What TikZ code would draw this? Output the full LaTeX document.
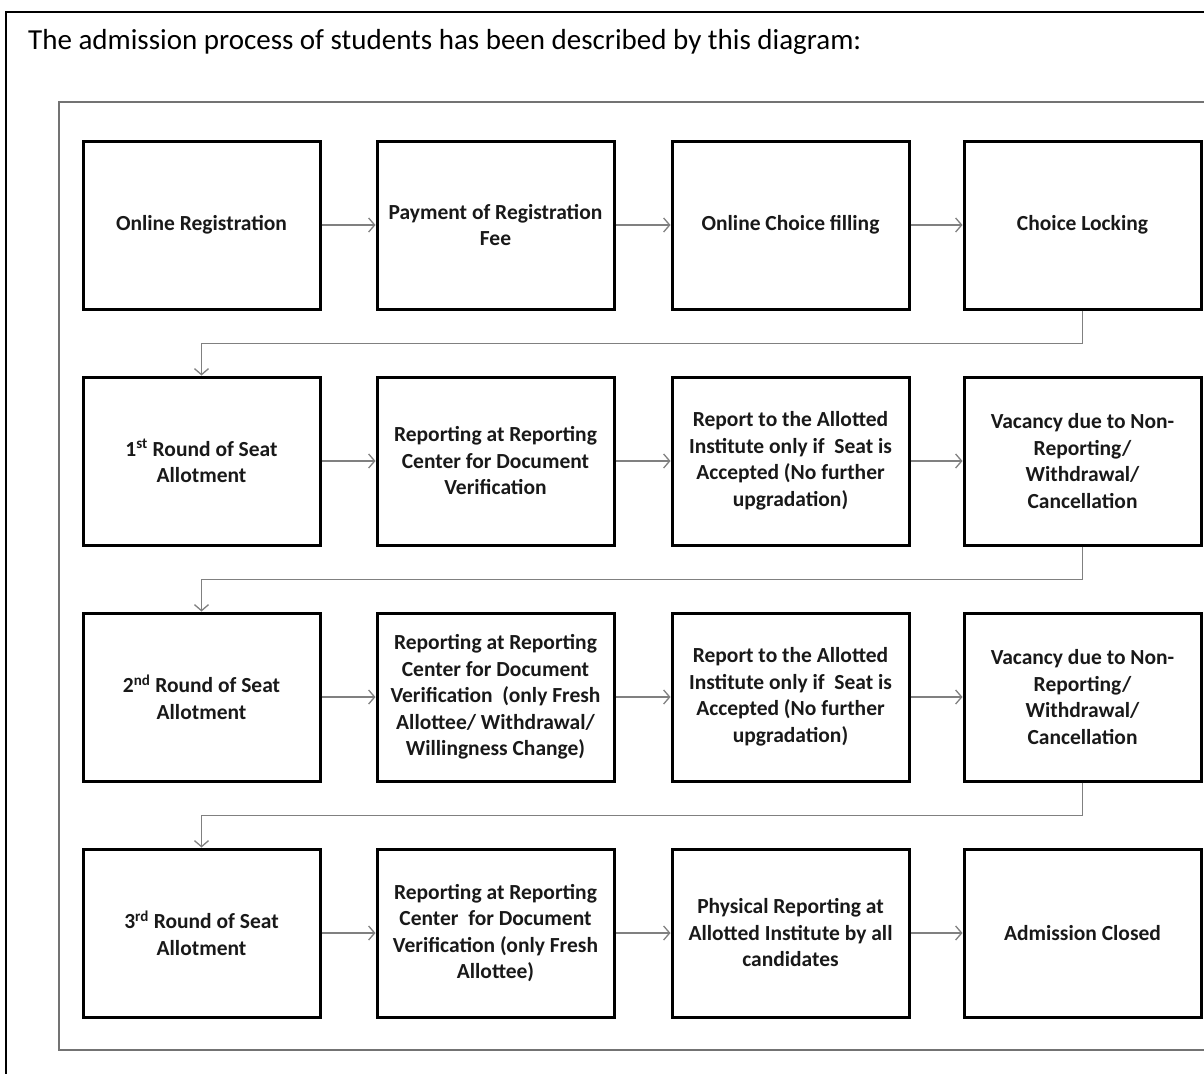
\documentclass[tikz,border=0pt]{standalone}
\usepackage{fontspec}
\setmainfont{Carlito}
\usetikzlibrary{arrows.meta}

\tikzset{
    stage/.style={draw=black, line width=3pt, minimum width=237pt, minimum height=168pt,
        align=center, inner sep=2pt, text=black!90,
        font=\fontsize{21.5}{26.5}\selectfont\bfseries},
    link/.style={draw=black!50, line width=1.3pt, -{Straight Barb[length=6pt,width=14pt]}}
}

\begin{document}
\begin{tikzpicture}[x=1pt, y=-1pt]
    \useasboundingbox (0,0) rectangle (1204,1073);
    \clip (0,0) rectangle (1204,1073);

    % frames
    \draw[line width=1.6pt] (6,12) rectangle (1240,1110);
    \draw[black!55, line width=1.8pt] (59,102) rectangle (1240,1050);
    \node[anchor=base west, inner sep=0pt, font=\fontsize{29}{34}\selectfont] (title) at (28,50)
        {The admission process of students has been described by this diagram:};

    % Row 1
    \node[stage] (reg)  at (201.5,225) {Online Registration};
    \node[stage] (pay)  at (495.5,225) {Payment of Registration\\Fee};
    \node[stage] (fill) at (790.5,225) {Online Choice filling};
    \node[stage] (lock) at (1082.5,225) {Choice Locking};

    % Row 2
    \node[stage] (first)  at (201.5,461) {1\textsuperscript{st} Round of Seat\\Allotment};
    \node[stage] (verA)   at (495.5,461) {Reporting at Reporting\\Center for Document\\Verification};
    \node[stage] (instA)  at (790.5,461) {Report to the Allotted\\Institute only if~ Seat is\\Accepted (No further\\upgradation)};
    \node[stage] (vacA)   at (1082.5,461) {Vacancy due to Non-\\Reporting/\\Withdrawal/\\Cancellation};

    % Row 3
    \node[stage] (second) at (201.5,697) {2\textsuperscript{nd} Round of Seat\\Allotment};
    \node[stage] (verB)   at (495.5,697) {Reporting at Reporting\\Center for Document\\Verification~ (only Fresh\\Allottee/ Withdrawal/\\Willingness Change)};
    \node[stage] (instB)  at (790.5,697) {Report to the Allotted\\Institute only if~ Seat is\\Accepted (No further\\upgradation)};
    \node[stage] (vacB)   at (1082.5,697) {Vacancy due to Non-\\Reporting/\\Withdrawal/\\Cancellation};

    % Row 4
    \node[stage] (third)  at (201.5,933) {3\textsuperscript{rd} Round of Seat\\Allotment};
    \node[stage] (verC)   at (495.5,933) {Reporting at Reporting\\Center~ for Document\\Verification (only Fresh\\Allottee)};
    \node[stage] (phys)   at (790.5,933) {Physical Reporting at\\Allotted Institute by all\\candidates};
    \node[stage] (closed) at (1082.5,933) {Admission Closed};

    % arrows
    \foreach \a/\b in {reg/pay, pay/fill, fill/lock, first/verA, verA/instA, instA/vacA,
        second/verB, verB/instB, instB/vacB, third/verC, verC/phys, phys/closed}
        \draw[link] (\a) -- (\b);
    \draw[link] (lock.south) -- ++(0,33) -| (first.north);
    \draw[link] (vacA.south) -- ++(0,33) -| (second.north);
    \draw[link] (vacB.south) -- ++(0,33) -| (third.north);
\end{tikzpicture}
\end{document}
